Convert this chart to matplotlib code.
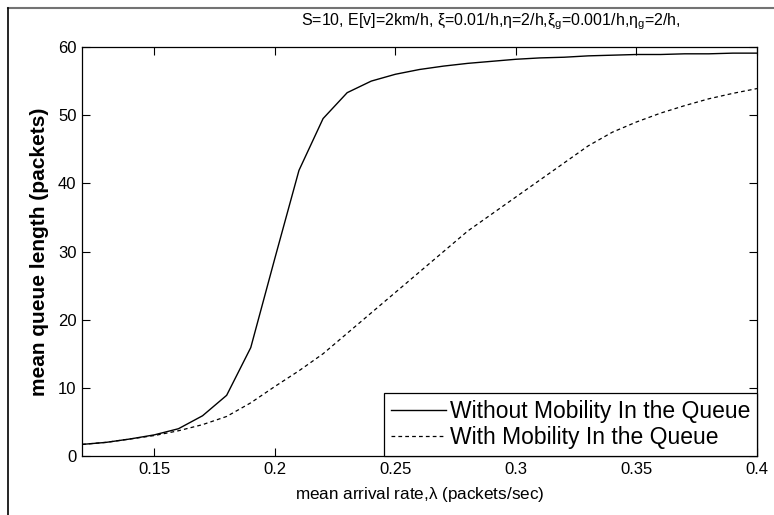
import numpy as np
import matplotlib
matplotlib.use('Agg')
import matplotlib.pyplot as plt
from matplotlib.lines import Line2D

# arrival rate (packets/sec)
lam = [0.12, 0.13, 0.14, 0.15, 0.16, 0.17, 0.18, 0.19, 0.20, 0.21,
       0.22, 0.23, 0.24, 0.25, 0.26, 0.27, 0.28, 0.29, 0.30, 0.31,
       0.32, 0.33, 0.34, 0.35, 0.36, 0.37, 0.38, 0.39, 0.40]

# mean queue length, no mobility in the queue
q_nomob = [1.7, 2.0, 2.5, 3.1, 4.0, 5.9, 8.9, 15.9, 29.0, 41.9,
           49.5, 53.3, 55.0, 56.0, 56.7, 57.2, 57.6, 57.9, 58.2, 58.4,
           58.5, 58.7, 58.8, 58.9, 58.9, 59.0, 59.0, 59.1, 59.1]

# mean queue length, with mobility in the queue
q_mob = [1.7, 2.0, 2.5, 3.0, 3.7, 4.6, 5.8, 7.8, 10.2, 12.5,
         15.0, 18.0, 21.0, 24.0, 27.0, 30.0, 33.0, 35.5, 38.0, 40.5,
         43.0, 45.5, 47.5, 49.0, 50.3, 51.4, 52.4, 53.2, 53.9]

xticks = [0.15, 0.2, 0.25, 0.3, 0.35, 0.4]
xticklabels = ['0.15', '0.2', '0.25', '0.3', '0.35', '0.4']
yticks = [0, 10, 20, 30, 40, 50, 60]

plt.rcParams['font.family'] = ['Liberation Sans', 'DejaVu Sans']
plt.rcParams['mathtext.fontset'] = 'custom'
plt.rcParams['mathtext.rm'] = 'Liberation Sans'
plt.rcParams['mathtext.it'] = 'Liberation Sans'

W, H = 774, 515
fig = plt.figure(figsize=(W/100, H/100), dpi=100)
ax = fig.add_axes([82/W, 1-456/H, (757-82)/W, (456-47)/H])

ax.plot(lam, q_nomob, 'k-', lw=1.0, label='Without Mobility In the Queue')
ax.plot(lam, q_mob, 'k--', lw=0.9, dashes=(3, 2.5), label='With Mobility In the Queue')

ax.set_xlim(0.12, 0.4)
ax.set_ylim(0, 60)
ax.set_xticks(xticks)
ax.set_xticklabels(xticklabels)
ax.set_yticks(yticks)
ax.tick_params(direction='in', length=6, width=0.8, labelsize=12,
               top=True, right=True, pad=4)
for s in ax.spines.values():
    s.set_linewidth(0.9)

leg = ax.legend(loc='lower right', fontsize=16.5, frameon=True, fancybox=False,
                edgecolor='k', framealpha=1, borderpad=0.3, handlelength=2.4,
                handletextpad=0.15, labelspacing=0.15, borderaxespad=0)
leg.get_frame().set_linewidth(0.9)

ax.set_xlabel(r'mean arrival rate,$\lambda$ (packets/sec)', fontsize=12.3, labelpad=6)
ax.set_ylabel('mean queue length (packets)', fontsize=15, fontweight='bold', labelpad=6)

fig.text(491/W, 1-22/H,
         r'S=10, E[v]=2km/h, $\xi$=0.01/h,$\eta$=2/h,$\xi_g$=0.001/h,$\eta_g$=2/h,',
         ha='center', va='center', fontsize=11.5)

# figure frame (top and left)
fig.add_artist(Line2D([8/W, 1], [1-8/H, 1-8/H], color='0.45', lw=1.5))
fig.add_artist(Line2D([8/W, 8/W], [0, 1-8/H], color='k', lw=1.2))

fig.savefig('out.png', dpi=100)
